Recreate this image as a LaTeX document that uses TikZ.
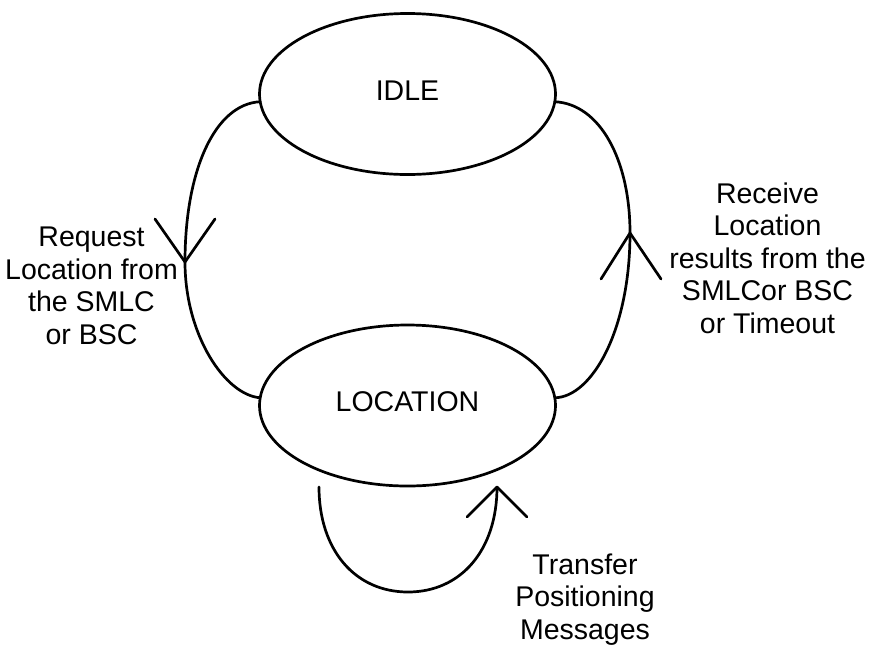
\documentclass[tikz,border=0pt]{standalone}
\usepackage{fontspec}
\setmainfont{Liberation Sans}
\usetikzlibrary{shapes.geometric}

\begin{document}
\begin{tikzpicture}[x=1pt,y=-1pt,line width=2.7pt,line cap=round,line join=round,
  font=\fontsize{28.5}{32.5}\selectfont,
  state/.style={draw,ellipse,minimum width=296pt,minimum height=161pt,inner sep=0pt,outer sep=0pt,text depth=7pt},
  lbl/.style={align=center,inner sep=0pt}]
\useasboundingbox (0,0) rectangle (869,646);
% states
\draw (407.5,94) node[state](idle) {IDLE};
\draw (407.5,405.5) node[state](loc) {LOCATION};
% arrow tips and loop ends
\coordinate (reqtip) at (185,262);
\coordinate (restip) at (630,233);
\coordinate (loopstart) at (319,487);
\coordinate (looptip) at (497,487);
% transitions
\draw (idle.183) .. controls (215,104) and (185,170) .. (reqtip)
  .. controls (185,335) and (225,395) .. (loc.177);
\draw (loc.3) .. controls (592,397) and (630,330) .. (restip)
  .. controls (630,160) and (600,104) .. (idle.357);
\draw (loopstart) .. controls (319,550) and (355,592) .. (408,592)
  .. controls (461,592) and (497,550) .. (looptip);
\draw (reqtip) +(-30,-43) -- (reqtip) -- +(30,-43);
\draw (restip) +(-29,46) -- (restip) -- +(31,46);
\draw (looptip) +(-30,30) -- (looptip) -- +(30,30);
% labels
\draw (91.5,286) node[lbl](reqlabel) {Request\\Location from\\the SMLC\\or BSC};
\draw (767.5,258) node[lbl](reslabel) {Receive\\Location\\results from the\\SMLCor BSC\\or Timeout};
\draw (585,599.5) node[lbl](trflabel) {Transfer\\Positioning\\Messages};
\end{tikzpicture}
\end{document}
